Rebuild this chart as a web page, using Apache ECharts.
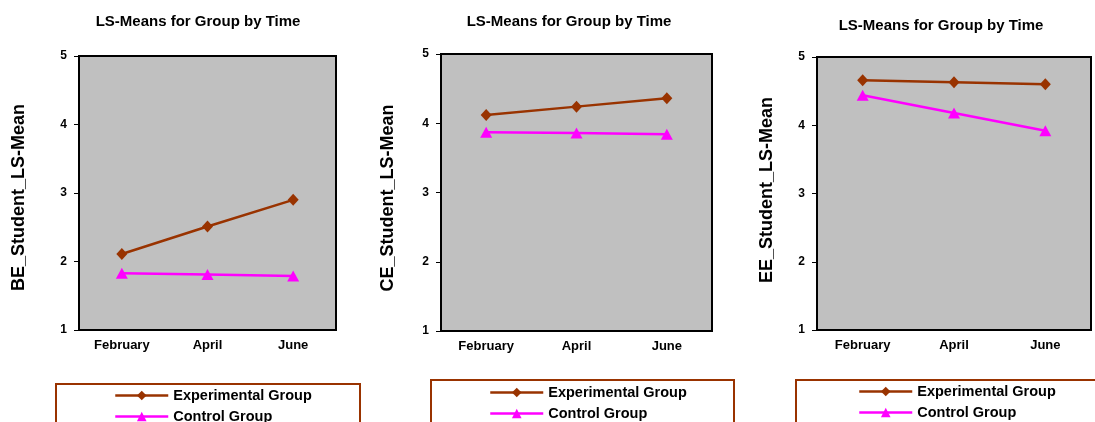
<!DOCTYPE html>
<html>
<head>
<meta charset="utf-8">
<script src="https://cdn.jsdelivr.net/npm/echarts@6/dist/echarts.min.js"></script>
<style>
  html, body { margin: 0; padding: 0; background: #fff; }
  #chart { width: 1095px; height: 422px; }
</style>
</head>
<body>
<div id="chart"></div>
<script>
// Months on the x axis
const categories = ['February', 'April', 'June'];
// Legend / series names
const groupNames = ['Experimental Group', 'Control Group'];
// Y-axis titles, one per panel
const yTitles = ['BE_Student_LS-Mean', 'CE_Student_LS-Mean', 'EE_Student_LS-Mean'];
const panelTitle = 'LS-Means for Group by Time';
// Y tick range
const yMin = 1, yMax = 5, yStep = 1;

// LS-means per panel
const beExperimental = [2.11, 2.51, 2.90];
const beControl = [1.83, 1.81, 1.79];
const ceExperimental = [4.12, 4.24, 4.36];
const ceControl = [3.87, 3.86, 3.84];
const eeExperimental = [4.66, 4.63, 4.60];
const eeControl = [4.44, 4.18, 3.92];

const panelData = [
  [beExperimental, beControl],
  [ceExperimental, ceControl],
  [eeExperimental, eeControl]
];

const FONT = "'Liberation Sans', Arial, sans-serif";
const EXP_COLOR = '#993300';
const CTL_COLOR = '#FF00FF';

// Layout of each panel (plot box, titles, legend box)
const layout = [
  { grid: { left: 79, top: 56, width: 257, height: 274 }, titleX: 198, titleY: 14, nameGap: 51, namePad: [0, 9, 0, 0],
    legendX: 114, legendY: 385, box: { x: 56, y: 384, width: 304 } },
  { grid: { left: 441, top: 54, width: 271, height: 277 }, titleX: 569, titleY: 14, nameGap: 44, namePad: [0, 11, 0, 0],
    legendX: 489, legendY: 382, box: { x: 431, y: 380, width: 303 } },
  { grid: { left: 817, top: 57, width: 274, height: 273 }, titleX: 941, titleY: 18, nameGap: 41, namePad: [0, 0, 0, 7],
    legendX: 858, legendY: 381, box: { x: 796, y: 380, width: 303 } }
];

const option = {
  backgroundColor: '#ffffff',
  animation: false,
  title: layout.map(p => ({
    text: panelTitle,
    left: p.titleX,
    top: p.titleY,
    padding: 0,
    textAlign: 'center',
    textVerticalAlign: 'top',
    textStyle: { fontFamily: FONT, fontSize: 15, fontWeight: 'bold', color: '#000' }
  })),
  grid: layout.map(p => Object.assign({
    show: true,
    backgroundColor: '#C0C0C0',
    borderColor: '#000',
    borderWidth: 2,
    containLabel: false
  }, p.grid)),
  xAxis: layout.map((p, i) => ({
    type: 'category',
    gridIndex: i,
    data: categories,
    boundaryGap: true,
    axisLine: { show: true, lineStyle: { color: '#000', width: 2 } },
    axisTick: { show: false },
    axisLabel: { fontFamily: FONT, fontSize: 13, fontWeight: 'bold', color: '#000', margin: 9 },
    splitLine: { show: false }
  })),
  yAxis: layout.map((p, i) => ({
    type: 'value',
    gridIndex: i,
    min: yMin,
    max: yMax,
    interval: yStep,
    name: yTitles[i],
    nameLocation: 'middle',
    nameGap: p.nameGap,
    nameTextStyle: { fontFamily: FONT, fontSize: 18, fontWeight: 'bold', color: '#000', padding: p.namePad },
    axisLine: { show: true, lineStyle: { color: '#000', width: 2 } },
    axisTick: { show: true, length: 5, lineStyle: { color: '#000', width: 1 } },
    axisLabel: { fontFamily: FONT, fontSize: 12, fontWeight: 'bold', color: '#000', margin: 12 },
    splitLine: { show: false }
  })),
  legend: layout.map(p => ({
    left: p.legendX,
    top: p.legendY,
    width: 260,
    height: 80,
    orient: 'vertical',
    padding: 0,
    itemWidth: 53,
    itemHeight: 12,
    itemGap: 0,
    selectedMode: false,
    data: groupNames,
    lineStyle: { width: 2.5 },
    textStyle: { fontFamily: FONT, fontSize: 14.5, fontWeight: 'bold', color: '#000', lineHeight: 21 }
  })),
  graphic: layout.map(p => ({
    type: 'rect',
    silent: true,
    shape: { x: p.box.x, y: p.box.y, width: p.box.width, height: 80 },
    style: { fill: 'none', stroke: EXP_COLOR, lineWidth: 2 }
  })),
  series: []
};

panelData.forEach((pair, i) => {
  option.series.push({
    name: groupNames[0],
    type: 'line',
    xAxisIndex: i,
    yAxisIndex: i,
    data: pair[0],
    symbol: 'diamond',
    symbolSize: [11, 12],
    itemStyle: { color: EXP_COLOR },
    lineStyle: { color: EXP_COLOR, width: 2.5 },
    z: 3
  });
  option.series.push({
    name: groupNames[1],
    type: 'line',
    xAxisIndex: i,
    yAxisIndex: i,
    data: pair[1],
    symbol: 'triangle',
    symbolSize: [12, 11],
    itemStyle: { color: CTL_COLOR },
    lineStyle: { color: CTL_COLOR, width: 2.5 },
    z: 2
  });
});

const chart = echarts.init(document.getElementById('chart'), null, { renderer: 'canvas' });
chart.setOption(option);
</script>
</body>
</html>
